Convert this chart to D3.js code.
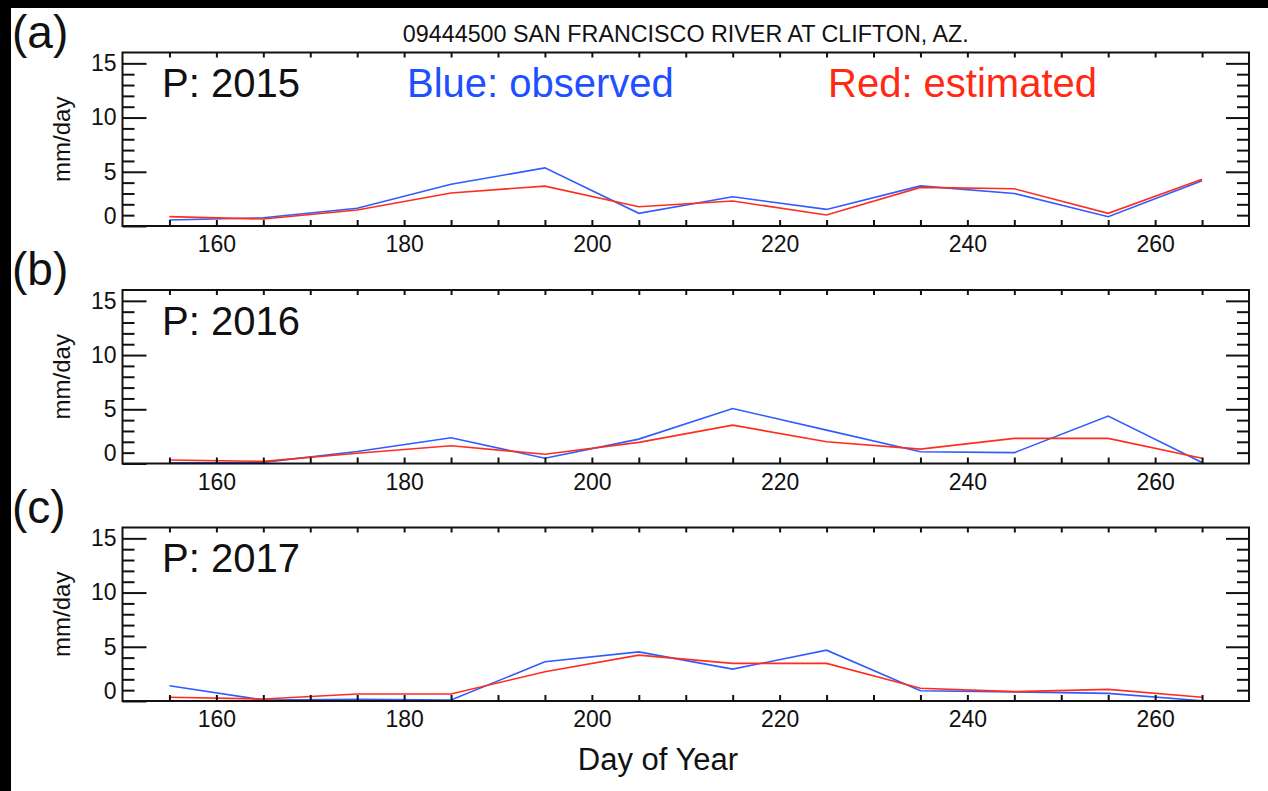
<!DOCTYPE html>
<html>
<head>
<meta charset="utf-8">
<script src="https://cdn.jsdelivr.net/npm/d3@7"></script>
<style>
  html, body { margin: 0; padding: 0; background: #000; }
  svg { display: block; }
  text { font-family: "Liberation Sans", Arial, Helvetica, sans-serif; }
</style>
</head>
<body>
<svg id="chart" width="1268" height="791"></svg>
<script>
// ---------- data ----------
const days = [155, 165, 175, 185, 195, 205, 215, 225, 235, 245, 255, 265];
const obs2015 = [0.55, 0.76, 1.63, 3.85, 5.36, 1.17, 2.70, 1.53, 3.70, 3.00, 0.86, 4.18];
const est2015 = [0.86, 0.64, 1.47, 3.05, 3.68, 1.78, 2.30, 1.01, 3.56, 3.43, 1.17, 4.30];
const obs2016 = [0.07, 0.10, 1.10, 2.37, 0.48, 2.25, 5.07, 3.08, 1.09, 1.00, 4.37, 0.10];
const est2016 = [0.32, 0.20, 0.95, 1.64, 0.85, 1.95, 3.54, 2.00, 1.33, 2.32, 2.32, 0.48];
const obs2017 = [1.41, 0.09, 0.15, 0.09, 3.62, 4.53, 2.94, 4.69, 0.95, 0.84, 0.70, 0.03];
const est2017 = [0.34, 0.18, 0.64, 0.64, 2.70, 4.23, 3.47, 3.47, 1.17, 0.86, 1.07, 0.34];
const panelLabels = ["(a)", "(b)", "(c)"];
const yearLabels = ["P: 2015", "P: 2016", "P: 2017"];
const yMajorTicks = [0, 5, 10, 15];
const yMinorTicks = [1, 2, 3, 4, 6, 7, 8, 9, 11, 12, 13, 14];
const xTicks = d3.range(155, 270, 5);
const xLabelTicks = [160, 180, 200, 220, 240, 260];
const title = "09444500 SAN FRANCISCO RIVER AT CLIFTON, AZ.";
const yTitle = "mm/day";
const xTitle = "Day of Year";
const legendObs = "Blue: observed";
const legendEst = "Red: estimated";

const panels = [
  { obs: obs2015, est: est2015 },
  { obs: obs2016, est: est2016 },
  { obs: obs2017, est: est2017 }
];

// ---------- layout ----------
const W = 1268, H = 791;
const left = 122.5, right = 1249;
const panelTops = [52.5, 290, 527.5];
const panelH = 173.5;
const blue = "#2f5bff", red = "#ff2d1f";
const FONT = '"Liberation Sans", Arial, sans-serif';

const svg = d3.select("#chart");
svg.append("rect").attr("x", 0).attr("y", 0).attr("width", W).attr("height", H).attr("fill", "#000");
svg.append("rect").attr("x", 11).attr("y", 8).attr("width", W - 11).attr("height", H - 8).attr("fill", "#fff");

const x = d3.scaleLinear().domain([150, 270]).range([left, right]);

// Title
svg.append("text")
  .attr("x", (left + right) / 2).attr("y", 42)
  .attr("text-anchor", "middle")
  .attr("font-size", 23.3).attr("fill", "#111")
  .text(title);

panels.forEach((p, i) => {
  const top = panelTops[i], bottom = top + panelH;
  const y = d3.scaleLinear().domain([0, 16]).range([bottom, top]);
  const g = svg.append("g");

  // panel label
  g.append("text").attr("x", 12).attr("y", top - 5)
    .attr("font-size", 46).attr("fill", "#111").text(panelLabels[i]);

  // lines
  const line = d3.line().x((d, k) => x(days[k])).y(d => y(d));
  g.append("path").datum(p.obs).attr("d", line)
    .attr("fill", "none").attr("stroke", blue).attr("stroke-width", 1.6);
  g.append("path").datum(p.est).attr("d", line)
    .attr("fill", "none").attr("stroke", red).attr("stroke-width", 1.6);

  // left axis: major ticks with labels
  const la = g.append("g").attr("transform", `translate(${left},0)`)
    .call(d3.axisLeft(y).tickValues(yMajorTicks).tickSize(-24).tickSizeOuter(0).tickPadding(6));
  la.selectAll("text").attr("font-size", 23).attr("fill", "#111")
    .attr("font-family", FONT)
    .filter(d => d === 0).attr("transform", "translate(0,-10)");
  // left axis: minor ticks
  g.append("g").attr("transform", `translate(${left},0)`)
    .call(d3.axisLeft(y).tickValues(yMinorTicks).tickSize(-12).tickSizeOuter(0).tickFormat(""));

  // right axis
  g.append("g").attr("transform", `translate(${right},0)`)
    .call(d3.axisRight(y).tickValues(yMajorTicks.filter(v => v > 0)).tickSize(-23).tickSizeOuter(0).tickFormat(""));
  g.append("g").attr("transform", `translate(${right},0)`)
    .call(d3.axisRight(y).tickValues(yMinorTicks).tickSize(-12).tickSizeOuter(0).tickFormat(""));

  // bottom axis
  const ba = g.append("g").attr("transform", `translate(0,${bottom})`)
    .call(d3.axisBottom(x).tickValues(xTicks).tickSize(-6).tickSizeOuter(0).tickPadding(10)
      .tickFormat(d => xLabelTicks.includes(d) ? d : ""));
  ba.selectAll("text").attr("font-size", 23).attr("fill", "#111")
    .attr("font-family", FONT);
  // top axis
  g.append("g").attr("transform", `translate(0,${top})`)
    .call(d3.axisTop(x).tickValues(xTicks).tickSize(-5).tickSizeOuter(0).tickFormat(""));

  g.selectAll(".domain").remove();
  g.selectAll(".tick line").attr("stroke", "#111").attr("stroke-width", 2);

  // frame
  g.append("rect").attr("x", left).attr("y", top).attr("width", right - left).attr("height", panelH)
    .attr("fill", "none").attr("stroke", "#111").attr("stroke-width", 2);

  // y title
  g.append("text")
    .attr("transform", `translate(70,${(top + bottom) / 2}) rotate(-90)`)
    .attr("text-anchor", "middle").attr("font-size", 24).attr("fill", "#111")
    .text(yTitle);

  // year label
  g.append("text").attr("x", 162).attr("y", top + 44.5)
    .attr("font-size", 40).attr("fill", "#111").text(yearLabels[i]);

  if (i === 0) {
    g.append("text").attr("x", 407).attr("y", top + 44.5)
      .attr("font-size", 40).attr("fill", "#1f50ff").text(legendObs);
    g.append("text").attr("x", 828).attr("y", top + 44.5)
      .attr("font-size", 40).attr("fill", "#ff2a14").text(legendEst);
  }
});

// x title
svg.append("text")
  .attr("x", 658).attr("y", 770)
  .attr("text-anchor", "middle").attr("font-size", 31).attr("fill", "#111")
  .text(xTitle);
</script>
</body>
</html>
